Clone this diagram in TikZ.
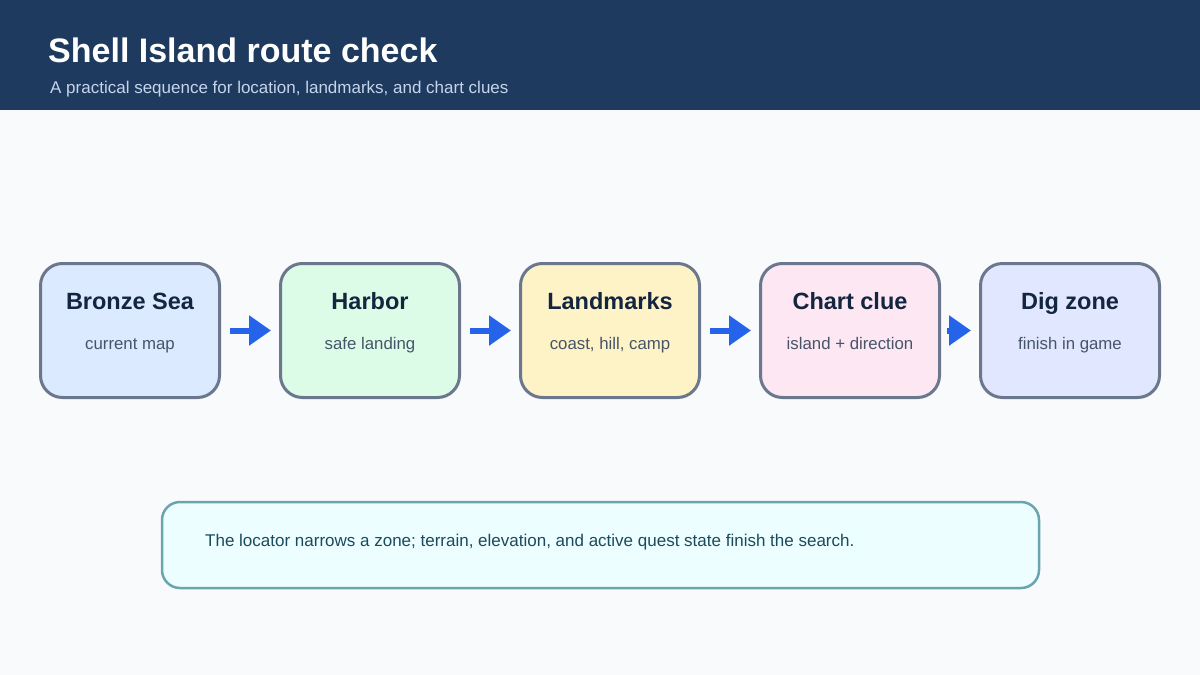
\documentclass[tikz,border=0pt]{standalone}
\usepackage{fontspec}
\setmainfont{Liberation Sans}
\usetikzlibrary{arrows.meta}
\definecolor{bg}{HTML}{F8FAFC}
\definecolor{header}{HTML}{1F3A5F}
\definecolor{subhead}{HTML}{C4D5EC}
\definecolor{border}{HTML}{6B778C}
\definecolor{titletext}{HTML}{14253F}
\definecolor{subtext}{HTML}{475569}
\definecolor{arrowc}{HTML}{2563EB}
\definecolor{fA}{HTML}{DBEAFE}
\definecolor{fB}{HTML}{DCFCE7}
\definecolor{fC}{HTML}{FEF3C7}
\definecolor{fD}{HTML}{FCE7F3}
\definecolor{fE}{HTML}{E0E7FF}
\definecolor{notefill}{HTML}{ECFEFF}
\definecolor{noteborder}{HTML}{6AA5AF}
\definecolor{notetext}{HTML}{1B4A5C}
\begin{document}
\begin{tikzpicture}[x=1pt,y=-1pt,
  stepbox/.style={draw=border, line width=3pt, rounded corners=22pt,
    minimum width=179pt, minimum height=134pt, inner sep=0pt, outer sep=0pt},
  boxtitle/.style={font=\fontsize{23.5}{28}\selectfont\bfseries, text=titletext,
    anchor=base, inner sep=0pt},
  boxsub/.style={font=\fontsize{16.8}{20}\selectfont, text=subtext,
    anchor=base, inner sep=0pt},
  flow/.style={draw=arrowc, line width=6pt, -{Triangle[width=29pt,length=22pt]}},
  notebox/.style={draw=noteborder, fill=notefill, line width=2.5pt, rounded corners=18pt,
    minimum width=877pt, minimum height=86pt, inner sep=0pt, outer sep=0pt},
]
\useasboundingbox (0,0) rectangle (1200,675);
\fill[bg] (0,0) rectangle (1200,675);
\fill[header] (0,0) rectangle (1200,110);
\node[anchor=base west, inner sep=0pt,
  font=\fontsize{34}{40}\selectfont\bfseries, text=white] (title) at (48,62) {Shell Island route check};
\node[anchor=base west, inner sep=0pt,
  font=\fontsize{17}{20}\selectfont, text=subhead] (subtitle) at (50,93) {A practical sequence for location, landmarks, and chart clues};

\node[stepbox, fill=fA] (b1) at (130,330.5) {};
\node[stepbox, fill=fB] (b2) at (370,330.5) {};
\node[stepbox, fill=fC] (b3) at (610,330.5) {};
\node[stepbox, fill=fD] (b4) at (850,330.5) {};
\node[stepbox, fill=fE] (b5) at (1070,330.5) {};

\foreach \b/\t/\s in {b1/Bronze Sea/current map, b2/Harbor/safe landing,
  b3/Landmarks/{coast, hill, camp}, b4/Chart clue/island + direction, b5/Dig zone/finish in game}{
  \node[boxtitle] (\b t) at ([yshift=21.5pt]\b.center) {\t};
  \node[boxsub] (\b s) at ([yshift=-18.5pt]\b.center) {\s};
}

\draw[flow] ([xshift=10.5pt]b1.east) -- ([xshift=-9.5pt]b2.west);
\draw[flow] ([xshift=10.5pt]b2.east) -- ([xshift=-9.5pt]b3.west);
\draw[flow] ([xshift=10.5pt]b3.east) -- ([xshift=-9.5pt]b4.west);
\draw[flow] ([xshift=7pt]b4.east) -- ([xshift=-9.5pt]b5.west);

\node[notebox] (note) at (600.5,545) {};
\node[anchor=base west, inner sep=0pt,
  font=\fontsize{17}{20}\selectfont, text=notetext] (notetxt) at (205,546)
  {The locator narrows a zone; terrain, elevation, and active quest state finish the search.};
\end{tikzpicture}
\end{document}
